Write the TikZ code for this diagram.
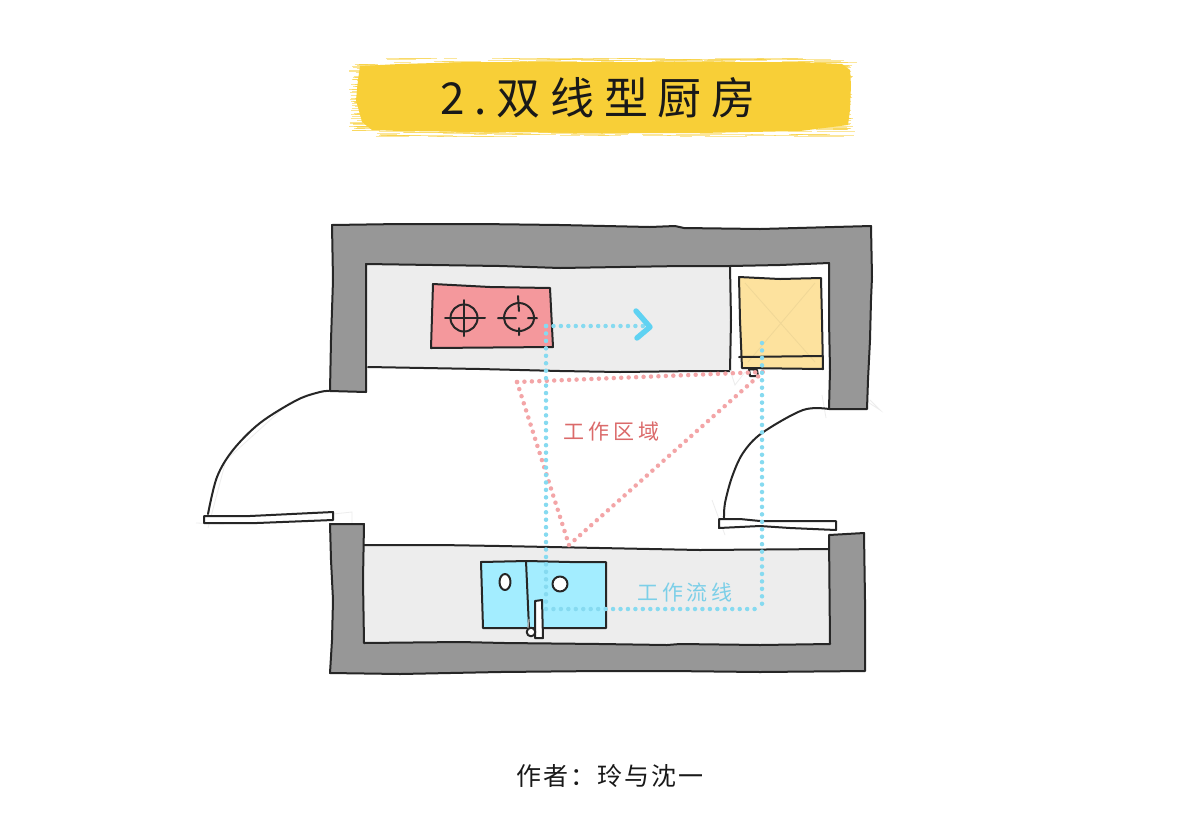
\documentclass[tikz,border=0pt]{standalone}
\usepackage{fontspec}
\newfontfamily\cjktitle[LetterSpace=22]{Noto Sans CJK SC}
\newfontfamily\cjklabel[LetterSpace=18]{Noto Sans CJK SC}
\newfontfamily\cjkcredit[LetterSpace=8]{Noto Sans CJK SC}
\definecolor{ink}{HTML}{262626}
\definecolor{wallgray}{HTML}{979797}
\definecolor{counter}{HTML}{EDEDED}
\definecolor{stovered}{HTML}{F4989C}
\definecolor{fridgey}{HTML}{FDE29E}
\definecolor{sinkblue}{HTML}{A3EDFF}
\definecolor{flowblue}{HTML}{86DAF0}
\definecolor{chevblue}{HTML}{5FD2F2}
\definecolor{zonered}{HTML}{F3A5A7}
\definecolor{zonetext}{HTML}{DB6A6A}
\definecolor{flowtext}{HTML}{7CCFE8}
\definecolor{brush}{HTML}{F8CF37}
\tikzset{
  sketch/.style={draw=ink,line width=2pt,line join=round,line cap=round},
  wall/.style={sketch,fill=wallgray},
  faint/.style={draw=black!7,line width=0.8pt},
  flowdots/.style={draw=flowblue,line width=4.5pt,line cap=round,dash pattern=on 0pt off 7.45pt},
  zonedots/.style={draw=zonered,line width=4.5pt,line cap=round,dash pattern=on 0pt off 7.45pt},
}
\begin{document}
\begin{tikzpicture}[x=1pt,y=-1pt]
\useasboundingbox (0,0) rectangle (1200,823);
\fill[white] (0,0) rectangle (1200,823);
% brush band
\fill[brush] (360,66) -- (400,64) -- (470,62) -- (560,62) -- (680,62) -- (800,62) -- (842,64) -- (850,70)
  -- (851,85) -- (850,110) -- (848,125) -- (800,131) -- (700,133) -- (600,133) -- (480,132) -- (400,131) -- (372,130) -- (362,122)
  -- (356,100) -- (358,80) -- cycle;
\pgfmathsetseed{11}
\foreach \i in {1,...,70}{
  \pgfmathsetmacro{\yy}{64+rnd*68}
  \pgfmathsetmacro{\xa}{349+rnd*12}
  \pgfmathsetmacro{\xb}{\xa+10+rnd*26}
  \draw[brush,line width=1pt,opacity=.55] (\xa,\yy) -- (\xb,\yy);
  \pgfmathsetmacro{\xc}{846+rnd*7}
  \pgfmathsetmacro{\xd}{\xc-14-rnd*22}
  \pgfmathsetmacro{\yz}{62+rnd*68}
  \draw[brush,line width=1pt,opacity=.55] (\xc,\yz) -- (\xd,\yz);
}
\foreach \i in {1,...,70}{
  \pgfmathsetmacro{\xa}{370+rnd*450}
  \pgfmathsetmacro{\xb}{\xa+12+rnd*40}
  \pgfmathsetmacro{\ya}{58+rnd*5}
  \draw[brush,line width=1pt,opacity=.5] (\xa,\ya) -- (\xb,\ya);
  \pgfmathsetmacro{\xe}{370+rnd*450}
  \pgfmathsetmacro{\xf}{\xe+12+rnd*40}
  \pgfmathsetmacro{\yb}{131+rnd*6}
  \draw[brush,line width=1pt,opacity=.5] (\xe,\yb) -- (\xf,\yb);
}
\node[font=\cjktitle\fontsize{44}{50}\selectfont,text=black!90] (title) at (598,98) {2.双线型厨房};

% counters
\path[fill=counter] (366,264) -- (500,266) -- (560,268) -- (620,267) -- (682,266) -- (730,266) -- (730,371) -- (697,371) -- (620,372) -- (560,371) -- (480,369) -- (368,367) -- cycle;
\path[fill=counter] (364,545) -- (440,545) -- (500,546) -- (600,548) -- (700,550) -- (830,549) -- (830,644) -- (364,643) -- cycle;
\draw[sketch] (368,367) -- (480,369) -- (560,371) -- (620,372) -- (697,371) -- (730,371) -- (731,320) -- (730,266);
\draw[sketch] (364,545) -- (440,545) -- (500,546) -- (600,548) -- (700,550) -- (830,549);

% faint construction lines
\draw[faint] (208,528) -- (226,460) -- (290,402);
\draw[faint] (196,523) -- (224,524);
\draw[faint] (333,514) -- (352,512) -- (352,530);
\draw[faint] (725,535) -- (712,500);
\draw[faint] (857,395) -- (880,410) -- (870,400);
\draw[faint] (822,395) -- (826,418);
\draw[faint] (730,370) -- (735,385) -- (745,372);

% walls
\draw[wall] (332,225) -- (400,224) -- (480,224) -- (560,225) -- (650,227) -- (675,226) -- (684,228) -- (760,229) -- (871,226)
  -- (872,277) -- (871,300) -- (870,340) -- (868,380) -- (867,409) -- (829,409) -- (830,370) -- (829,320) -- (829,263)
  -- (780,265) -- (730,266) -- (682,266) -- (620,267) -- (560,268) -- (500,266) -- (366,264) -- (366,340) -- (366,392) -- (330,391)
  -- (331,340) -- (333,280) -- cycle;
\draw[wall] (330,524) -- (364,524) -- (363,580) -- (364,643) -- (460,642) -- (505,643) -- (600,644) -- (667,645) -- (680,644) -- (760,645) -- (830,644)
  -- (829,535) -- (864,533) -- (865,600) -- (865,671) -- (760,672) -- (670,671) -- (600,671) -- (500,672) -- (400,674) -- (330,673)
  -- (332,640) -- (333,600) -- (331,560) -- cycle;

% doors
\draw[sketch] plot[smooth,tension=.55] coordinates {(329,391) (320,392) (297,400) (260,423) (233,450) (217,477) (208,514)};
\draw[sketch,fill=white] (204,516) -- (250,516) -- (333,512) -- (333,520) -- (257,523) -- (204,523) -- cycle;
\draw[sketch] plot[smooth,tension=.55] coordinates {(829,409) (803,410) (762,433) (743,453) (732,477) (725,503) (724,518)};
\draw[sketch,fill=white] (719,519) -- (740,519) -- (760,521) -- (836,521) -- (836,530) -- (790,528) -- (760,526) -- (719,528) -- cycle;

% stove
\draw[sketch,fill=stovered] (433,284) -- (490,287) -- (550,288) -- (553,347) -- (431,348) -- cycle;
\draw[sketch] (464,318) circle[radius=13.5];
\draw[sketch] (445,318) -- (485,318) (464,300) -- (464,336);
\draw[sketch] (504,318) .. controls (504,309) and (512,303) .. (519,303) .. controls (528,303) and (534,311) .. (534,318) .. controls (534,326) and (526,331) .. (519,331) .. controls (511,331) and (504,325) .. (504,318) -- cycle;
\draw[sketch] (498,318) -- (516,318) (528,318) -- (537,318) (518,296) -- (519,311) (519,328) -- (519,335);

% fridge
\draw[sketch,fill=fridgey] (739,277) -- (780,279) -- (821,278) -- (822,320) -- (823,369) -- (742,368) -- (740,320) -- cycle;
\draw[draw=ink!6!fridgey,line width=.8pt] (745,283) -- (815,362) (815,283) -- (748,362);
\draw[sketch] (739,357) -- (823,356);
\draw[sketch,fill=white] (749,369) -- (757,370) -- (758,376) -- (750,376) -- cycle;

% sink
\draw[sketch,fill=sinkblue] (481,562) -- (527,561) -- (570,562) -- (606,562) -- (606,600) -- (606,628) -- (483,628) -- cycle;
\draw[sketch] (526,561) -- (529,628);
\draw[sketch,fill=white] (505,582) ellipse[x radius=5.5,y radius=8];
\draw[sketch,fill=white] (560,584) circle[radius=7.5];

% work zone triangle
\coordinate (za) at (517,382);
\coordinate (zb) at (763,372);
\coordinate (zc) at (569,545);
\draw[zonedots] (za) -- (zb);
\draw[zonedots] (za) -- (zc);
\draw[zonedots] (zc) -- (zb);

% work flow
\coordinate (f0) at (643,326);
\coordinate (f1) at (546,326);
\coordinate (f2) at (546,609);
\coordinate (f3) at (762,609);
\coordinate (f4) at (762,343);
\draw[flowdots] (f1) -- (f0);
\draw[flowdots] (f1) -- (f2);
\draw[flowdots] (f2) -- (f3);
\draw[flowdots] (f4) -- (f3);
\coordinate (c1) at (636,311);
\coordinate (c2) at (650,327);
\coordinate (c3) at (637,338);
\draw[draw=chevblue,line width=5.4pt,line cap=round,line join=round] (c1) -- (c2) -- (c3);

% faucet
\draw[sketch,fill=white] (535,601) -- (542,600) -- (543,638) -- (535,638) -- cycle;
\draw[sketch,fill=white] (531,632) circle[radius=4.3];
\draw[draw=black!35,line width=1.2pt] (529,619) -- (528,628);

% labels
\node[font=\cjklabel\fontsize{21}{25}\selectfont,text=zonetext] (zone) at (611.5,432) {工作区域};
\node[font=\cjklabel\fontsize{21}{25}\selectfont,text=flowtext] (flow) at (685,592) {工作流线};
\node[font=\cjkcredit\fontsize{25}{30}\selectfont,text=black!90] (credit) at (610,776) {作者：玲与沈一};
\end{tikzpicture}
\end{document}
